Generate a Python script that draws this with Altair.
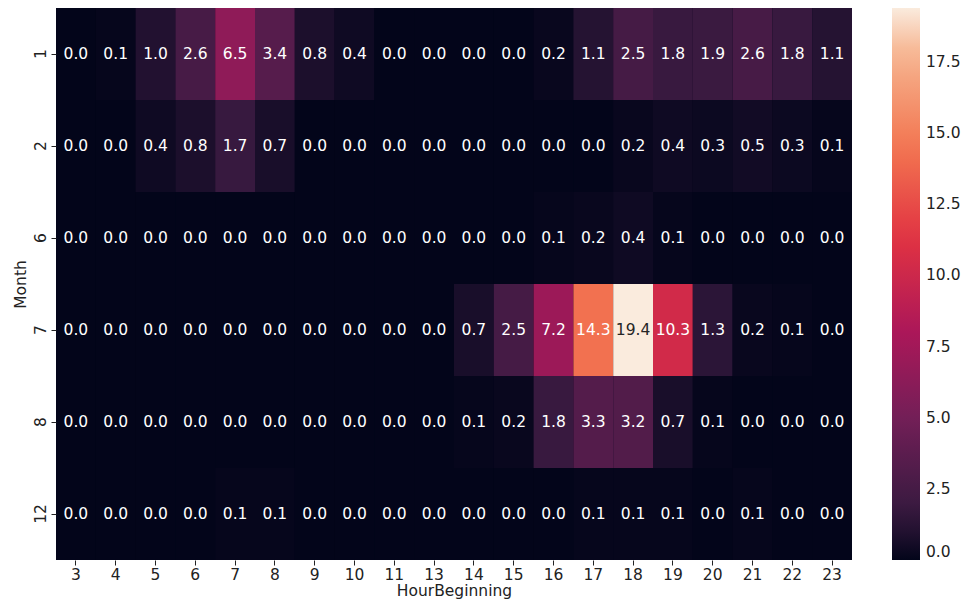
import altair as alt
import pandas as pd

hours = [3, 4, 5, 6, 7, 8, 9, 10, 11, 13, 14, 15, 16, 17, 18, 19, 20, 21, 22, 23]
months = [1, 2, 6, 7, 8, 12]

m1 = [0.0, 0.1, 1.0, 2.6, 6.5, 3.4, 0.8, 0.4, 0.0, 0.0, 0.0, 0.0, 0.2, 1.1, 2.5, 1.8, 1.9, 2.6, 1.8, 1.1]
m2 = [0.0, 0.0, 0.4, 0.8, 1.7, 0.7, 0.0, 0.0, 0.0, 0.0, 0.0, 0.0, 0.0, 0.0, 0.2, 0.4, 0.3, 0.5, 0.3, 0.1]
m6 = [0.0, 0.0, 0.0, 0.0, 0.0, 0.0, 0.0, 0.0, 0.0, 0.0, 0.0, 0.0, 0.1, 0.2, 0.4, 0.1, 0.0, 0.0, 0.0, 0.0]
m7 = [0.0, 0.0, 0.0, 0.0, 0.0, 0.0, 0.0, 0.0, 0.0, 0.0, 0.7, 2.5, 7.2, 14.3, 19.4, 10.3, 1.3, 0.2, 0.1, 0.0]
m8 = [0.0, 0.0, 0.0, 0.0, 0.0, 0.0, 0.0, 0.0, 0.0, 0.0, 0.1, 0.2, 1.8, 3.3, 3.2, 0.7, 0.1, 0.0, 0.0, 0.0]
m12 = [0.0, 0.0, 0.0, 0.0, 0.1, 0.1, 0.0, 0.0, 0.0, 0.0, 0.0, 0.0, 0.0, 0.1, 0.1, 0.1, 0.0, 0.1, 0.0, 0.0]
rows = [m1, m2, m6, m7, m8, m12]

legend_ticks = [0.0, 2.5, 5.0, 7.5, 10.0, 12.5, 15.0, 17.5]

records = []
for m, vals in zip(months, rows):
    for h, v in zip(hours, vals):
        records.append({"Month": m, "HourBeginning": h, "value": v})
df = pd.DataFrame(records)

vmax = max(max(r) for r in rows)

rocket = ["#03051a", "#35193e", "#701f57", "#ad1759", "#e13342", "#f37651", "#f6b48f", "#faebdd"]
stops = [0.0, 1/12, 3/12, 5/12, 7/12, 9/12, 11/12, 1.0]
domain = [s * vmax for s in stops]

FONT = "DejaVu Sans"
FS = 15.5
W, H = 796, 552

base = alt.Chart(df).encode(
    x=alt.X("HourBeginning:O", sort=hours, title="HourBeginning",
            axis=alt.Axis(labelAngle=0, domain=False, grid=False, tickSize=5, tickColor="#222",
                          labelFontSize=FS, titleFontSize=FS, labelColor="#222",
                          titleColor="#222", labelFont=FONT, titleFont=FONT,
                          titleFontWeight="normal", labelPadding=2, titlePadding=1)),
    y=alt.Y("Month:O", sort=months, title="Month",
            axis=alt.Axis(labelAngle=270, labelAlign="center", labelBaseline="bottom",
                          domain=False, grid=False, tickSize=5, tickColor="#222",
                          labelFontSize=FS, titleFontSize=FS, labelColor="#222",
                          titleColor="#222", labelFont=FONT, titleFont=FONT,
                          titleFontWeight="normal", labelPadding=3, titlePadding=5)),
)

rect = base.mark_rect().encode(
    color=alt.Color("value:Q",
                    scale=alt.Scale(domain=domain, range=rocket, interpolate="rgb"),
                    legend=alt.Legend(title=None, direction="vertical", gradientLength=H,
                                      gradientThickness=28, offset=40, values=legend_ticks,
                                      format=".1f", labelFontSize=FS, labelFont=FONT,
                                      labelColor="#222", labelOffset=6,
                                      gradientStrokeWidth=0)),
)

text = base.mark_text(fontSize=FS, font=FONT).encode(
    text=alt.Text("value:Q", format=".1f"),
    color=alt.condition(alt.datum.value > 15, alt.value("#262626"), alt.value("#ffffff")),
)

chart = (rect + text).properties(
    width=W, height=H,
    autosize=alt.AutoSizeParams(type="none"),
    padding={"left": 48, "top": 0, "right": 109, "bottom": 41},
).configure_view(stroke=None, fill="#03051a").configure_scale(bandPaddingInner=0, bandPaddingOuter=0)

chart.save("out.html", embed_options={"renderer": "svg", "actions": False})
